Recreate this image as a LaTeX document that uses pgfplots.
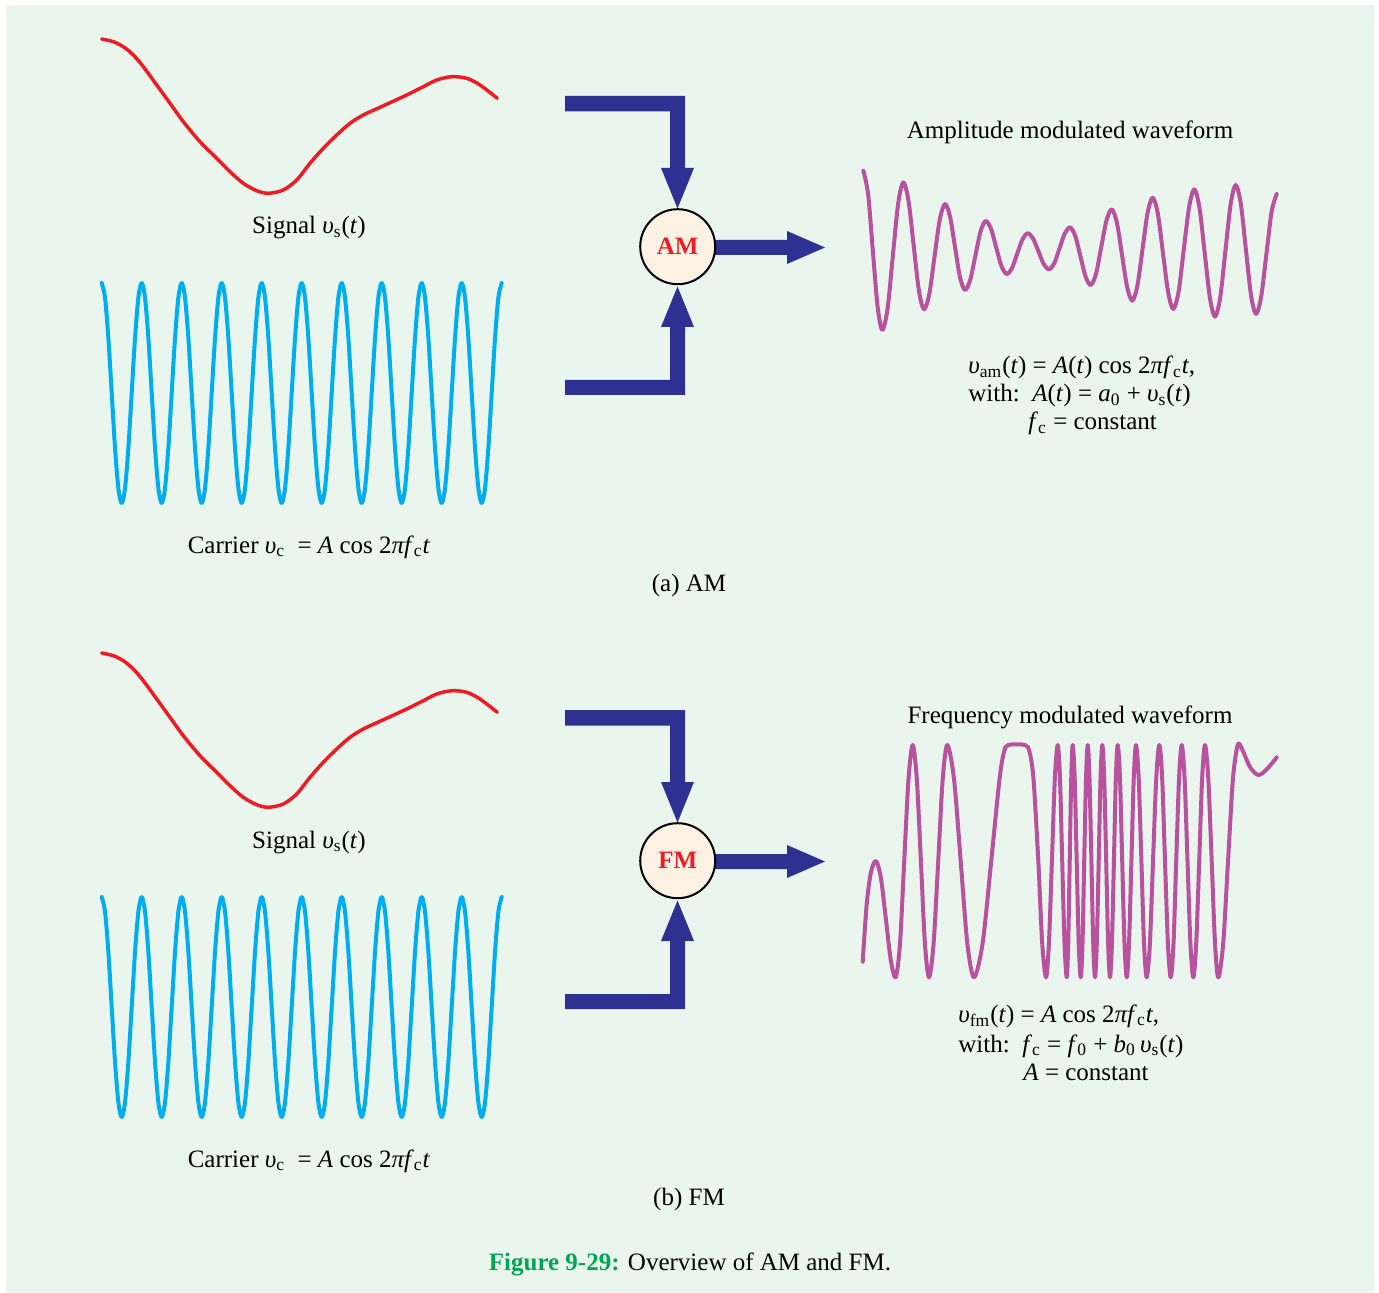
\documentclass[border=0pt]{standalone}
\usepackage{fontspec}
\setmainfont{Liberation Serif}
\usepackage{pgfplots}
\pgfplotsset{compat=1.18}
\usepackage{pgfplotstable}

\definecolor{bg}{HTML}{EAF5EE}
\definecolor{sig}{HTML}{ED1C24}
\definecolor{car}{HTML}{00AEEF}
\definecolor{modc}{HTML}{B8529E}
\definecolor{arr}{HTML}{2E3192}
\definecolor{circ}{HTML}{FDF1E4}
\definecolor{capg}{HTML}{00A651}

\newcommand{\ups}{\textit{υ}}
\newcommand{\tf}{\fontsize{12.5}{15}\selectfont}

% carrier: one sample every 30 degrees, 10 cycles
\pgfplotstableread[row sep=\\]{
k v\\
0 1\\1 0.866\\2 0.5\\3 0\\4 -0.5\\5 -0.866\\6 -1\\7 -0.866\\8 -0.5\\9 0\\10 0.5\\11 0.866\\
12 1\\13 0.866\\14 0.5\\15 0\\16 -0.5\\17 -0.866\\18 -1\\19 -0.866\\20 -0.5\\21 0\\22 0.5\\23 0.866\\
24 1\\25 0.866\\26 0.5\\27 0\\28 -0.5\\29 -0.866\\30 -1\\31 -0.866\\32 -0.5\\33 0\\34 0.5\\35 0.866\\
36 1\\37 0.866\\38 0.5\\39 0\\40 -0.5\\41 -0.866\\42 -1\\43 -0.866\\44 -0.5\\45 0\\46 0.5\\47 0.866\\
48 1\\49 0.866\\50 0.5\\51 0\\52 -0.5\\53 -0.866\\54 -1\\55 -0.866\\56 -0.5\\57 0\\58 0.5\\59 0.866\\
60 1\\61 0.866\\62 0.5\\63 0\\64 -0.5\\65 -0.866\\66 -1\\67 -0.866\\68 -0.5\\69 0\\70 0.5\\71 0.866\\
72 1\\73 0.866\\74 0.5\\75 0\\76 -0.5\\77 -0.866\\78 -1\\79 -0.866\\80 -0.5\\81 0\\82 0.5\\83 0.866\\
84 1\\85 0.866\\86 0.5\\87 0\\88 -0.5\\89 -0.866\\90 -1\\91 -0.866\\92 -0.5\\93 0\\94 0.5\\95 0.866\\
96 1\\97 0.866\\98 0.5\\99 0\\100 -0.5\\101 -0.866\\102 -1\\103 -0.866\\104 -0.5\\105 0\\106 0.5\\107 0.866\\
108 1\\109 0.866\\110 0.5\\111 0\\112 -0.5\\113 -0.866\\114 -1\\115 -0.866\\116 -0.5\\117 0\\118 0.5\\119 0.866\\
120 1\\
}\carrier

% message signal (panel pixel coordinates)
\pgfplotstableread[row sep=\\]{
x y\\
101.7 39\\113.3 41.7\\123.3 46.7\\133.3 55\\143.3 66.7\\156.7 85\\170 103.3\\183.3 121.7\\
200 141.7\\216.7 158.3\\230 171.7\\243.3 183.3\\256.7 190.7\\268.3 193.3\\283.3 190\\
296.7 180\\310 163.3\\323.3 148.3\\336.7 135\\350 123.3\\363.3 115\\380 107.3\\406.7 95\\
423.3 86.7\\436.7 80\\451.7 76.7\\466.7 78.3\\480 85\\497.3 98.3\\
}\signal

\begin{document}
\begin{tikzpicture}[x=0.5pt,y=-0.5pt,font=\tf]
\fill[white] (0,0) rectangle (1379,1293);
\fill[bg] (6,5) rectangle (1374,1292);

\foreach \dy/\lab in {0/AM,614/FM}{
\begin{scope}[shift={(0,\dy)}]
\fill[arr] (565,96) -- (685,96) -- (685,168) -- (694,168) -- (677.5,208.5) -- (661,168) -- (670,168) -- (670,111.5) -- (565,111.5) -- cycle;
\fill[arr] (565,395) -- (685,395) -- (685,327) -- (694,327) -- (677.5,286.5) -- (661,327) -- (670,327) -- (670,380) -- (565,380) -- cycle;
\fill[arr] (705,240) -- (787,240) -- (787,231) -- (825,247.5) -- (787,264) -- (787,255) -- (705,255) -- cycle;
\draw[line width=1pt,fill=circ] (677.7,246.7) circle[radius=18.75pt];
\node[text=sig,font=\tf\bfseries,inner sep=0] at (677.7,246.7) {\lab};
\node[anchor=base,inner sep=0] at (309,234) {Signal \ups\textsubscript{s}(\textit{t})};
\node[anchor=base,inner sep=0] at (309,553) {Carrier \ups\textsubscript{c}\ \ = \textit{A} cos 2\textit{πf}\textsubscript{c}\textit{t}};
\end{scope}
}

\node[anchor=base,inner sep=0] at (1070,139) {Amplitude modulated waveform};
\node[anchor=base west,inner sep=0] at (968,374) {\ups\textsubscript{am}(\textit{t}) = \textit{A}(\textit{t}) cos 2\textit{πf}\textsubscript{c}\textit{t},};
\node[anchor=base west,inner sep=0] at (968,402) {with:\ \ \textit{A}(\textit{t}) = \textit{a}\textsubscript{0} + \ups\textsubscript{s}(\textit{t})};
\node[anchor=base west,inner sep=0] at (1028,430) {\textit{f}\textsubscript{c} = constant};
\node[anchor=base,inner sep=0] at (689,591) {(a) AM};

\node[anchor=base,inner sep=0] at (1070,723) {Frequency modulated waveform};
\node[anchor=base west,inner sep=0] at (958,1022) {\ups\textsubscript{fm}(\textit{t}) = \textit{A} cos 2\textit{πf}\textsubscript{c}\textit{t},};
\node[anchor=base west,inner sep=0] at (958,1052) {with:\ \ \textit{f}\textsubscript{c} = \textit{f}\textsubscript{0} + \textit{b}\textsubscript{0}\,\ups\textsubscript{s}(\textit{t})};
\node[anchor=base west,inner sep=0] at (1023,1080) {\textit{A} = constant};
\node[anchor=base,inner sep=0] at (689,1205) {(b) FM};

\node[anchor=base,inner sep=0] at (690,1270) {\textcolor{capg}{\bfseries Figure 9-29:} Overview of AM and FM.};

% panel (a)
\begin{axis}[at={(0pt,0pt)},anchor=north west,width=689.5pt,height=307pt,scale only axis,
  xmin=0,xmax=1379,ymin=0,ymax=614,y dir=reverse,hide axis,clip=false]
\addplot[sig,line width=1.75pt,smooth,line cap=round,line join=round] table[x=x,y=y] {\signal};
\addplot[modc,line width=2pt,smooth,tension=0.5,line cap=round,line join=round] coordinates {
(863.3,170.7)(868.1,194.1)(872.8,250.4)(877.6,306.7)(882.3,330)(887.6,308.4)(892.8,256.2)
(898.1,204)(903.3,182.3)(908.5,200.9)(913.7,245.8)(918.9,290.7)(924,309.3)(929.3,293.9)
(934.5,256.7)(939.8,219.4)(945,204)(950,216.6)(955,247)(960,277.4)(965,290)(970.2,279.9)
(975.4,255.5)(980.6,231.1)(985.7,221)(991,228.8)(996.2,247.5)(1001.5,266.2)(1006.7,274)
(1012,268.1)(1017.2,253.7)(1022.5,239.3)(1027.7,233.3)(1033.1,238.6)(1038.4,251.3)(1043.7,264)
(1049,269.3)(1054.3,263.2)(1059.5,248.3)(1064.8,233.5)(1070,227.3)(1075.2,235.8)(1080.4,256.2)
(1085.6,276.6)(1090.7,285)(1096,273.9)(1101.2,247.2)(1106.5,220.4)(1111.7,209.3)(1116.9,222.7)
(1122,255)(1127.2,287.3)(1132.3,300.7)(1137.4,285.6)(1142.5,249.2)(1147.6,212.8)(1152.7,197.7)
(1157.9,214)(1163,253.4)(1168.2,292.7)(1173.3,309)(1178.6,291.5)(1183.8,249.2)(1189.1,206.9)
(1194.3,189.3)(1199.5,208)(1204.7,253)(1209.9,298)(1215,316.7)(1220.2,297.4)(1225.4,250.9)
(1230.6,204.3)(1235.7,185)(1240.8,203.9)(1245.9,249.5)(1251,295.1)(1256,314)(1261.2,296.4)
(1266.4,254)(1271.6,211.6)(1276.7,194)};
\end{axis}

% panel (b)
\begin{axis}[at={(0pt,-307pt)},anchor=north west,width=689.5pt,height=307pt,scale only axis,
  xmin=0,xmax=1379,ymin=0,ymax=614,y dir=reverse,hide axis,clip=false]
\addplot[sig,line width=1.75pt,smooth,line cap=round,line join=round] table[x=x,y=y] {\signal};
\addplot[modc,line width=2pt,smooth,tension=0.5,line cap=round,line join=round] coordinates {
(862.7,347.7)(866.7,290)(871,258)(876,247)(880.9,264)(885.9,305.2)(890.8,346.3)(895.7,363.3)
(900,329.3)(904.2,247.2)(908.5,165.1)(912.7,131)(916.8,165.1)(920.9,247.2)(924.9,329.3)
(929,363.3)(933.6,329.3)(938.2,247.2)(942.7,165.1)(947.3,131)(954,165.1)(960.7,247.2)
(967.3,329.3)(974,363.3)(982.6,329.3)(991.2,247.2)(999.5,165.1)(1004,138)(1008.3,131)
(1025,131)(1029.5,138)(1033.5,165.1)(1038.3,247.2)(1042.2,329.3)(1046,363.3)
(1048.9,329.3)(1051.9,247.2)(1054.8,165.1)(1057.7,131)(1060,165.1)(1062.2,247.2)(1064.5,329.3)
(1066.7,363.3)(1068.2,329.3)(1069.7,247.2)(1071.2,165.1)(1072.7,131)(1074.7,165.1)(1076.7,247.2)
(1078.7,329.3)(1080.7,363.3)(1082.5,329.3)(1084.2,247.2)(1086,165.1)(1087.7,131)(1089.5,165.1)
(1091.4,247.2)(1093.2,329.3)(1095,363.3)(1096.8,329.3)(1098.7,247.2)(1100.5,165.1)(1102.3,131)
(1104.2,165.1)(1106.2,247.2)(1108.1,329.3)(1110,363.3)(1111.9,329.3)(1113.9,247.2)(1115.8,165.1)
(1117.7,131)(1120,165.1)(1122.2,247.2)(1124.5,329.3)(1126.7,363.3)(1129,329.3)(1131.4,247.2)
(1133.7,165.1)(1136,131)(1138.7,165.1)(1141.4,247.2)(1144,329.3)(1146.7,363.3)(1149.9,329.3)
(1153,247.2)(1156.2,165.1)(1159.3,131)(1162.2,165.1)(1165,247.2)(1167.9,329.3)(1170.7,363.3)
(1173.5,329.3)(1176.2,247.2)(1179,165.1)(1181.7,131)(1184.6,165.1)(1187.5,247.2)(1190.4,329.3)
(1193.3,363.3)(1196.2,329.3)(1199.2,247.2)(1202.1,165.1)(1205,131)(1208.3,165.1)(1211.7,247.2)
(1215,329.3)(1218.3,363.3)(1223.2,329.3)(1228,247.2)(1232.9,165.1)(1237.7,131)(1242,135)
(1250,153)(1258.3,161)(1267,155)(1276.7,143.3)};
\end{axis}

% carriers
\begin{axis}[at={(50.85pt,-141.5pt)},anchor=north west,width=200pt,height=110pt,scale only axis,
  xmin=0,xmax=120,ymin=-1,ymax=1,hide axis,clip=false]
\addplot[car,line width=2pt,smooth,line cap=round,line join=round] table[x=k,y=v] {\carrier};
\end{axis}
\begin{axis}[at={(50.85pt,-448.5pt)},anchor=north west,width=200pt,height=110pt,scale only axis,
  xmin=0,xmax=120,ymin=-1,ymax=1,hide axis,clip=false]
\addplot[car,line width=2pt,smooth,line cap=round,line join=round] table[x=k,y=v] {\carrier};
\end{axis}
\end{tikzpicture}
\end{document}
